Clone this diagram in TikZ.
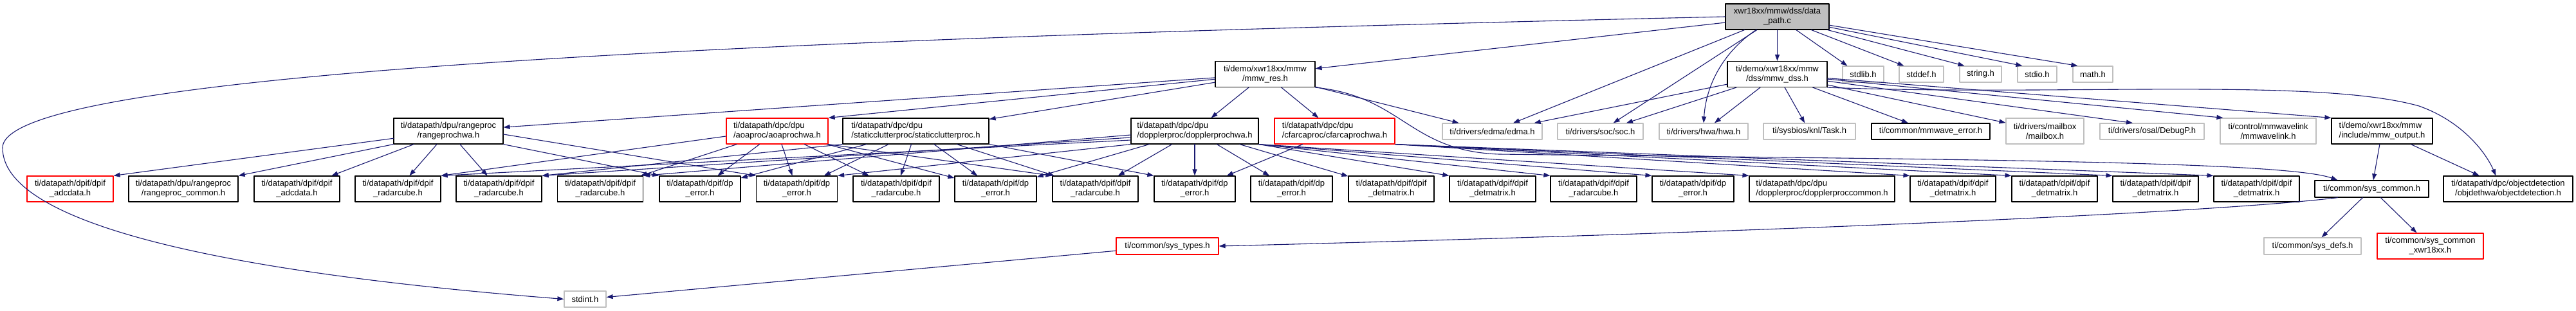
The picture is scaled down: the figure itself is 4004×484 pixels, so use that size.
\documentclass[tikz,border=0pt]{standalone}
\usepackage{fontspec}
\setmainfont{Liberation Sans}
\usetikzlibrary{arrows.meta}
\definecolor{edgeblue}{HTML}{191970}
\definecolor{boxgrey}{HTML}{BFBFBF}
\tikzset{
  file/.style={draw=black, line width=1.2pt, fill=white, font=\fontsize{13}{15}\selectfont,
    inner xsep=4pt, inner ysep=1pt, align=center, minimum height=40pt},
  sysfile/.style={file, draw=boxgrey},
  redfile/.style={file, draw=red},
  oneline/.style={minimum height=25pt},
  edge/.style={->, draw=edgeblue, line width=1.1pt},
}
\begin{document}
\begin{tikzpicture}[x=1pt, y=-1pt, >={Triangle[length=10pt,width=7pt]}, line cap=round, line join=round]
	\def\adc{ti/datapath/dpif/dpif\\\_adcdata.h}
	\def\rcommon{ti/datapath/dpu/rangeproc\\/rangeproc\_common.h}
	\def\rcube{ti/datapath/dpif/dpif\\\_radarcube.h}
	\def\dperr{ti/datapath/dpif/dp\\\_error.h}
	\def\detmat{ti/datapath/dpif/dpif\\\_detmatrix.h}
	\useasboundingbox (0,0) rectangle (4004,484);
	% top
	\node[file, fill=boxgrey, minimum width=161pt] (main) at (2762.5,26) {xwr18xx/mmw/dss/data\\\_path.c};
	\node[file, minimum width=155pt] (mmwres) at (1966.5,115.5) {ti/demo/xwr18xx/mmw\\/mmw\_res.h};
	\node[file, minimum width=155pt] (mmwdss) at (2762.5,115.5) {ti/demo/xwr18xx/mmw\\/dss/mmw\_dss.h};
	\node[sysfile, oneline, minimum width=64pt] (stdlib) at (2896,115.5) {stdlib.h};
	\node[sysfile, oneline, minimum width=69pt] (stddef) at (2986.5,115.5) {stddef.h};
	\node[sysfile, oneline, minimum width=65pt] (string) at (3078.5,115.5) {string.h};
	\node[sysfile, oneline, minimum width=61pt] (stdio) at (3166.5,115.5) {stdio.h};
	\node[sysfile, oneline, minimum width=62pt] (math) at (3253,115.5) {math.h};
	% second row
	\node[file, minimum width=170pt] (rangeproc) at (697,204) {ti/datapath/dpu/rangeproc\\/rangeprochwa.h};
	\node[redfile, align=left, minimum width=158pt] (aoa) at (1208,204) {ti/datapath/dpc/dpu\\/aoaproc/aoaprochwa.h};
	\node[file, align=left, minimum width=227pt] (static) at (1423.5,204) {ti/datapath/dpc/dpu\\/staticclutterproc/staticclutterproc.h};
	\node[file, align=left, minimum width=198pt] (doppler) at (1857,204) {ti/datapath/dpc/dpu\\/dopplerproc/dopplerprochwa.h};
	\node[redfile, align=left, minimum width=187pt] (cfar) at (2074.5,204) {ti/datapath/dpc/dpu\\/cfarcaproc/cfarcaprochwa.h};
	\node[sysfile, oneline, minimum width=155pt] (edma) at (2319.5,204.5) {ti/drivers/edma/edma.h};
	\node[sysfile, oneline, minimum width=133pt] (soc) at (2487.5,204.5) {ti/drivers/soc/soc.h};
	\node[sysfile, oneline, minimum width=138pt] (hwa) at (2648,204.5) {ti/drivers/hwa/hwa.h};
	\node[sysfile, oneline, minimum width=143pt] (task) at (2812.5,204.5) {ti/sysbios/knl/Task.h};
	\node[file, oneline, minimum width=184pt] (mmwerr) at (3001,204.5) {ti/common/mmwave\_error.h};
	\node[sysfile, minimum width=121pt] (mailbox) at (3178.5,204) {ti/drivers/mailbox\\/mailbox.h};
	\node[sysfile, oneline, minimum width=162pt] (debugp) at (3345,204.5) {ti/drivers/osal/DebugP.h};
	\node[sysfile, minimum width=149pt] (mmwlink) at (3525.5,204) {ti/control/mmwavelink\\/mmwavelink.h};
	\node[file, align=left, minimum width=157pt] (mmwout) at (3702.5,204) {ti/demo/xwr18xx/mmw\\/include/mmw\_output.h};
	% third row
	\node[redfile, minimum width=134pt] (n1) at (109,294) {\adc};
	\foreach \nm/\cx/\wid/\lbl in {n2/285/170/\rcommon, n3/461.5/133/\adc, n4/618.5/133/\rcube,
		n5/775.5/133/\rcube, n6/933/133/\rcube, n7/1088/126/\dperr, n8/1238.5/126/\dperr,
		n9/1393/134/\rcube, n10/1547.5/127/\dperr, n11/1702.5/133/\rcube, n12/1857/126/\dperr,
		n13/2007.5/127/\dperr, n14/2162.5/133/\detmat, n15/2320/134/\detmat, n16/2477/134/\rcube,
		n17/2631.5/127/\dperr, n19/3035.5/133/\detmat, n20/3193.5/133/\detmat,
		n21/3350.5/133/\detmat, n22/3507.5/133/\detmat}
		\node[file, minimum width=\wid pt] (\nm) at (\cx,294) {\lbl};
	\node[file, align=left, minimum width=226pt] (n18) at (2832,294) {ti/datapath/dpc/dpu\\/dopplerproc/dopplerproccommon.h};
	\node[file, minimum width=177pt, minimum height=26pt] (syscommon) at (3686.5,294) {ti/common/sys\_common.h};
	\node[file, minimum width=201pt] (objdet) at (3898.5,294) {ti/datapath/dpc/objectdetection\\/objdethwa/objectdetection.h};
	% bottom
	\node[redfile, minimum width=159pt, minimum height=26pt] (systypes) at (1814.5,383) {ti/common/sys\_types.h};
	\node[sysfile, minimum width=151pt, minimum height=26pt] (sysdefs) at (3594.5,383) {ti/common/sys\_defs.h};
	\node[redfile, minimum width=165pt] (sysxwr) at (3777.5,383) {ti/common/sys\_common\\\_xwr18xx.h};
	\node[sysfile, oneline, minimum width=65pt] (stdint) at (909.5,465.5) {stdint.h};

	% data_path.c
	\draw[edge] (main) -- (mmwres);
	\draw[edge] (main) -- (mmwdss);
	\draw[edge] (main) -- (edma);
	\draw[edge] (main) -- (soc);
	\draw[edge] ([xshift=48pt]main.south west) .. controls (2680,80) and (2652,130) .. (hwa.north);
	\foreach \t in {stdlib,stddef,string,stdio,math}
		\draw[edge] (main) -- ([xshift=8pt]\t.north west);
	\draw[edge] (main.west) .. controls (1200,60) and (4,110) .. (4,230) .. controls (4,340) and (300,420) .. (stdint.west);
	% mmw_res.h
	\foreach \t in {rangeproc,static,doppler,cfar,edma}
		\draw[edge] (mmwres) -- (\t);
	\draw[edge] (mmwres) -- (aoa.north east);
	\draw[edge] (mmwres.south east) .. controls (2180,150) and (2190,235) .. (2330,240) .. controls (3000,248) and (3550,250) .. ([xshift=36pt]syscommon.north west);
	% mmw_dss.h
	\foreach \t in {edma,soc,hwa,task,mmwerr,mailbox}
		\draw[edge] (mmwdss) -- (\t);
	\draw[edge] (mmwdss) -- ([xshift=-30pt]debugp.north);
	\draw[edge] (mmwdss) -- ([xshift=5pt]mmwlink.north west);
	\draw[edge] (mmwdss) -- (mmwout.north west);
	\draw[edge] (mmwdss.south east) .. controls (3200,150) and (3600,120) .. (3760,165) .. controls (3830,190) and (3865,240) .. ([xshift=82pt]objdet.north west);
	% dpu headers
	\draw[edge] (rangeproc) -- (n1.north east);
	\draw[edge] (rangeproc.south west) -- (n2.north east);
	\foreach \t in {n3,n4,n5}
		\draw[edge] (rangeproc) -- (\t);
	\draw[edge] (rangeproc.south east) -- (n7.north west);
	\draw[edge] ([yshift=-5pt]rangeproc.east) -- (n8.north west);

	\draw[edge] ([yshift=-8pt]aoa.west) -- (n4.north east);
	\foreach \t in {n6,n7,n8,n9,n10}
		\draw[edge] (aoa) -- (\t);
	\draw[edge] (aoa.south east) -- (n11.north west);

	\draw[edge] (static.south west) -- (n5.north east);
	\foreach \t in {n7,n8,n9,n10,n11}
		\draw[edge] (static) -- (\t);
	\draw[edge] (static.south east) -- (n12.north west);

	\draw[edge] ([yshift=-14pt]doppler.west) -- (n4.north east);
	\draw[edge] ([yshift=-10pt]doppler.west) -- (n5.north east);
	\draw[edge] ([yshift=-6pt]doppler.west) -- (n6.north east);
	\draw[edge] (doppler.south west) -- (n8.north east);
	\foreach \t in {n10,n11,n12,n13,n14}
		\draw[edge] (doppler) -- (\t);
	\foreach \t in {n15,n16,n17,n18}
		\draw[edge] (doppler.south east) -- (\t.north west);

	\draw[edge] (cfar) -- (n12);
	\foreach \t in {n19,n20,n21,n22}
		\draw[edge] (cfar.south east) -- (\t.north west);
	% output and common
	\draw[edge] (mmwout) -- (syscommon);
	\draw[edge] (mmwout) -- (objdet);
	\draw[edge] (syscommon) -- (sysdefs);
	\draw[edge] (syscommon) -- (sysxwr);
	\draw[edge] ([xshift=36pt]syscommon.south west) .. controls (3450,330) and (2800,360) .. (systypes.east);
	\draw[edge] (systypes) -- (stdint);
\end{tikzpicture}
\end{document}
